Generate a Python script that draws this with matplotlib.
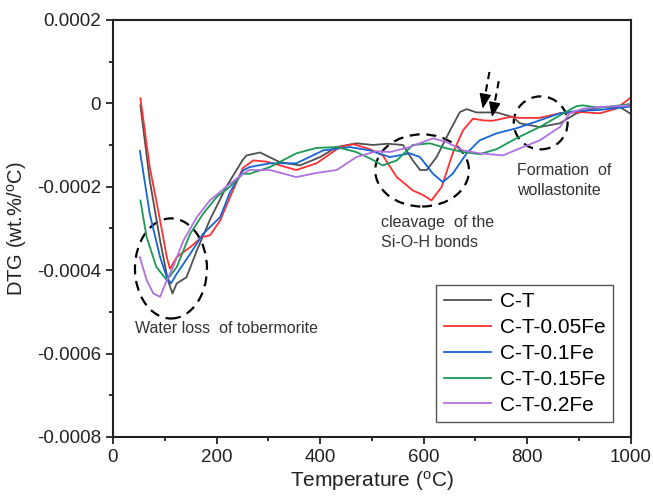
import matplotlib
matplotlib.use('Agg')
import matplotlib.pyplot as plt
from matplotlib.patches import Ellipse
from matplotlib.ticker import MultipleLocator, FuncFormatter

# DTG readings, y in units of 1e-4 wt.%/oC
ct_x = [53, 71, 91, 106, 115, 123, 142, 162, 187, 219, 251, 258, 284, 322, 361, 400, 432, 470, 502, 530,
        560, 579, 593, 606, 625, 651, 670, 683, 702, 741, 772, 786, 824, 863, 895, 940, 979, 998]
ct_y = [-0.05, -1.85, -3.29, -4.24, -4.56, -4.32, -4.17, -3.53, -2.8, -2.0, -1.35, -1.25, -1.18, -1.41,
        -1.49, -1.29, -1.05, -0.96, -1.0, -0.97, -1.0, -1.37, -1.6, -1.6, -1.29, -0.65, -0.21, -0.14,
        -0.22, -0.22, -0.33, -0.48, -0.57, -0.48, -0.24, -0.09, -0.09, -0.24]

fe005_x = [53, 71, 91, 104, 110, 123, 149, 171, 187, 207, 226, 251, 271, 297, 354, 393, 438, 464, 496,
           521, 548, 579, 599, 615, 635, 656, 676, 695, 715, 733, 766, 786, 824, 863, 901, 940, 972, 998]
fe005_y = [0.12, -1.53, -2.81, -3.69, -3.97, -3.69, -3.45, -3.21, -3.17, -2.81, -2.25, -1.55, -1.37,
           -1.4, -1.6, -1.44, -1.05, -0.98, -1.1, -1.25, -1.77, -2.09, -2.2, -2.33, -2.0, -1.2, -0.65,
           -0.37, -0.41, -0.42, -0.33, -0.35, -0.35, -0.24, -0.21, -0.24, -0.13, 0.12]

fe01_x = [52, 71, 91, 104, 112, 123, 149, 174, 207, 226, 251, 264, 303, 354, 406, 457, 496, 535, 573,
          593, 618, 637, 656, 683, 708, 741, 779, 824, 863, 901, 940, 998]
fe01_y = [-1.14, -2.65, -3.69, -4.17, -4.32, -4.09, -3.61, -3.13, -2.73, -2.13, -1.61, -1.53, -1.44,
          -1.44, -1.13, -1.05, -1.13, -1.29, -1.2, -1.29, -1.69, -1.89, -1.69, -1.2, -0.89, -0.72,
          -0.6, -0.41, -0.24, -0.18, -0.16, -0.08]

fe015_x = [53, 65, 84, 104, 123, 149, 174, 200, 226, 251, 264, 303, 354, 393, 432, 470, 496, 521, 548,
           579, 612, 644, 676, 708, 741, 779, 824, 863, 895, 908, 940, 998]
fe015_y = [-2.33, -3.21, -3.93, -4.24, -3.93, -3.13, -2.65, -2.25, -2.0, -1.69, -1.69, -1.53, -1.2,
           -1.07, -1.05, -1.17, -1.32, -1.49, -1.37, -1.0, -0.96, -1.08, -1.17, -1.22, -1.1, -0.84,
           -0.57, -0.29, -0.07, -0.05, -0.11, -0.02]

fe02_x = [52, 65, 78, 91, 104, 116, 136, 162, 187, 219, 251, 264, 303, 354, 393, 432, 470, 509, 535,
          573, 618, 644, 676, 708, 753, 786, 824, 863, 882, 908, 940, 998]
fe02_y = [-3.69, -4.24, -4.56, -4.64, -4.24, -3.93, -3.29, -2.73, -2.33, -2.0, -1.69, -1.6, -1.6,
          -1.77, -1.67, -1.6, -1.29, -1.15, -1.17, -1.05, -0.84, -0.93, -1.13, -1.2, -1.25, -1.08,
          -0.89, -0.57, -0.24, -0.13, -0.09, -0.05]

labels = ['C-T', 'C-T-0.05Fe', 'C-T-0.1Fe', 'C-T-0.15Fe', 'C-T-0.2Fe']
colors = ['#505050', '#ff3030', '#1565d8', '#1a9a55', '#b070e0']
series = [(ct_x, ct_y), (fe005_x, fe005_y), (fe01_x, fe01_y), (fe015_x, fe015_y), (fe02_x, fe02_y)]
scale = 1e-4

# arrows pointing at the shoulder near 700-750 oC: (start, tip)
arrows = [((727, 0.75), (714, -0.13)), ((745, 0.53), (732, -0.33))]

plt.rcParams['font.family'] = ['Liberation Sans', 'DejaVu Sans']
plt.rcParams['mathtext.fontset'] = 'custom'
plt.rcParams['mathtext.rm'] = 'Liberation Sans'

fig = plt.figure(figsize=(6.53, 4.96), dpi=100)
ax = fig.add_axes([0.173, 0.119, 0.793, 0.841])

for (xs, ys), lab, col in zip(series, labels, colors):
    ax.plot(xs, [v * scale for v in ys], color=col, lw=1.3, label=lab)

ax.set_xlim(0, 1000)
ax.set_ylim(-0.0008, 0.0002)
ax.xaxis.set_major_locator(MultipleLocator(200))
ax.xaxis.set_minor_locator(MultipleLocator(100))
ax.yaxis.set_major_locator(MultipleLocator(0.0002))
ax.yaxis.set_minor_locator(MultipleLocator(0.0001))
ax.yaxis.set_major_formatter(FuncFormatter(lambda v, p: '0' if abs(v) < 1e-9 else f'{v:.4f}'))
ax.tick_params(which='both', direction='out', top=False, right=False, labelsize=13.5, colors='#222222')
ax.tick_params(which='major', length=5, width=1.3)
ax.tick_params(which='minor', length=3, width=1.3)
for s in ax.spines.values():
    s.set_linewidth(1.5)
    s.set_color('#222222')

ax.set_xlabel(r'Temperature ($\mathrm{^{o}}$C)', fontsize=15, color='#222222', labelpad=2)
ax.set_ylabel(r'DTG (wt.%/$\mathrm{^{o}}$C)', fontsize=14.5, color='#222222', labelpad=6)

leg = ax.legend(loc='lower right', bbox_to_anchor=(0.965, 0.036), borderaxespad=0, fontsize=15,
                handlelength=2.3, labelspacing=0.33, fancybox=False, framealpha=1,
                edgecolor='#555555', borderpad=0.35, handletextpad=0.4)
leg.get_frame().set_linewidth(1.0)

# dashed ellipses around the events
ell_kw = dict(fill=False, ls=(0, (4.5, 3)), lw=1.6, color='black')
ax.add_patch(Ellipse((112, -0.000396), 139, 0.00024, **ell_kw))
ax.add_patch(Ellipse((597, -0.000161), 181, 0.000173, **ell_kw))
ax.add_patch(Ellipse((826, -0.000047), 104, 0.000127, **ell_kw))

# dashed shaft + solid head
for (x0, y0), (x1, y1) in arrows:
    xm = x0 + (x1 - x0) * 0.72
    ym = y0 + (y1 - y0) * 0.72
    ax.plot([x0, xm], [y0 * scale, ym * scale], color='black', lw=1.5, ls=(0, (3.5, 2.5)))
    ax.annotate('', xy=(x1, y1 * scale), xytext=(xm, ym * scale),
                arrowprops=dict(arrowstyle='-|>,head_length=0.75,head_width=0.3', color='black',
                                lw=1.0, mutation_scale=12, shrinkA=0, shrinkB=0))

txt_kw = dict(fontsize=11.5, color='#333333', va='center', ha='left', linespacing=1.35)
ax.text(42, -0.000540, 'Water loss  of tobermorite', **txt_kw)
ax.text(517, -0.000310, 'cleavage  of the\nSi-O-H bonds', **txt_kw)
ax.text(780, -0.000185, 'Formation  of\nwollastonite', **txt_kw)

fig.savefig('out.png', dpi=100)
